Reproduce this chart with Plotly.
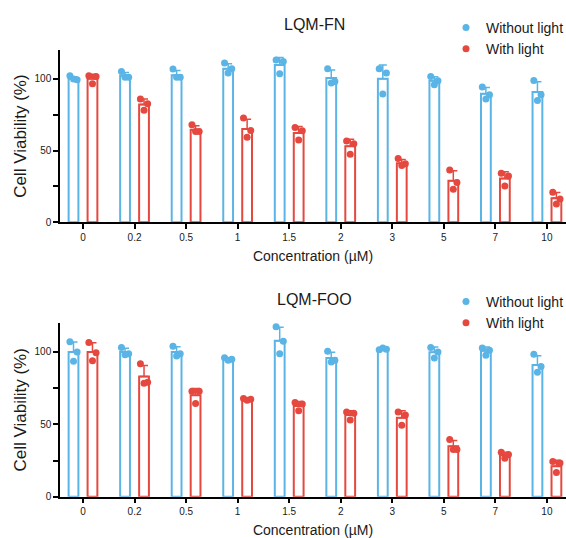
import plotly.graph_objects as go
import numpy as np

categories = ["0", "0.2", "0.5", "1", "1.5", "2", "3", "5", "7", "10"]

# ---- LQM-FN ----
fn_dark_mean = [100, 102, 102.5, 107, 109.5, 100.5, 100, 98.5, 89.5, 90.7]
fn_dark_err = [1.4, 2.3, 3.3, 3.5, 5.2, 5.5, 9.5, 2.9, 4.3, 7.2]
fn_dark_pts = [[102, 99.3, 99.8], [105, 101, 101], [106.7, 101, 101], [111, 107, 104],
               [113, 112, 103.5], [107, 98, 97], [107, 104, 89.3], [101.6, 98.6, 95.8],
               [94.2, 88.8, 85.8], [98.8, 88.8, 84.9]]
fn_light_mean = [100, 82, 64.5, 65, 62.2, 53, 41.2, 29, 30.5, 16.7]
fn_light_err = [3.1, 3.9, 2.7, 6.7, 4.5, 4.9, 2.6, 6.9, 4.7, 4.1]
fn_light_pts = [[102, 101.6, 96.5], [85.8, 82.6, 78], [67.9, 63.3, 63.3], [72.6, 64, 59.3],
                [66, 63.7, 57.4], [56.7, 54.7, 47.4], [44.4, 40.7, 39.5], [36.5, 27.7, 23],
                [34.2, 32.3, 25.3], [20.9, 16.3, 12.8]]

# ---- LQM-FOO ----
foo_dark_mean = [100, 100, 100, 95, 107.8, 95.8, 102.1, 99.8, 100.8, 91]
foo_dark_err = [6.8, 2.6, 3.6, 0.9, 9.3, 4.0, 0.6, 3.6, 2.6, 6.3]
foo_dark_pts = [[107, 100, 93.5], [103, 98.8, 98.1], [104, 98.8, 97.2], [96, 94.9, 94.2],
                [117.4, 107.4, 98.8], [100.5, 94.2, 93], [101.6, 101.9, 102.8],
                [103, 100, 95.8], [102.8, 101.2, 97.7], [98.4, 90, 86]]
foo_light_mean = [100, 83, 70, 67, 62.6, 56.4, 54.5, 34.9, 28.6, 21]
foo_light_err = [6.3, 7.6, 4.8, 0.6, 3.1, 3.0, 4.9, 4.0, 2.1, 4.2]
foo_light_pts = [[106.5, 99.5, 94], [91.9, 79, 78.4], [72.8, 72.8, 64.4], [67.9, 67.4, 66.7],
                 [65.1, 64, 59.3], [58.6, 57.7, 53], [58.6, 56.5, 49.3], [39.5, 32.6, 32.6],
                 [30.7, 29.1, 26.5], [24.4, 23.3, 16.7]]

panel_titles = ["LQM-FN", "LQM-FOO"]
series_names = ["Without light", "With light"]

BLUE = "#5AB4E5"
RED = "#E5483F"
FONT = "Arial, Liberation Sans, sans-serif"
TXT = "#1a1a1a"

W, H = 566, 538
idx = np.arange(len(categories))
OFF = 0.184
BW = 0.19
JIT = np.array([-0.07, 0.07, 0.0])

fig = go.Figure()


def add_panel(n, dark_mean, dark_err, dark_pts, light_mean, light_err, light_pts, legend):
    xa = "x" if n == 1 else "x2"
    ya = "y" if n == 1 else "y2"
    for sign, mean, err, pts, col, name in [
        (-1, dark_mean, dark_err, dark_pts, BLUE, series_names[0]),
        (1, light_mean, light_err, light_pts, RED, series_names[1]),
    ]:
        xb = idx + sign * OFF
        fig.add_trace(go.Bar(
            x=xb, y=mean, width=BW, xaxis=xa, yaxis=ya, showlegend=False,
            marker=dict(color="white", line=dict(color=col, width=2)),
            error_y=dict(type="data", array=err, arrayminus=[0] * len(err), symmetric=False,
                         color=col, thickness=1.5, width=4),
            hoverinfo="skip",
        ))
        px = []
        py = []
        for i, trip in enumerate(pts):
            for j, v in enumerate(trip):
                px.append(xb[i] + JIT[j])
                py.append(v)
        fig.add_trace(go.Scatter(
            x=px, y=py, mode="markers", name=name, xaxis=xa, yaxis=ya,
            marker=dict(color=col, size=7), cliponaxis=False, legend=legend,
        ))


add_panel(1, fn_dark_mean, fn_dark_err, fn_dark_pts, fn_light_mean, fn_light_err, fn_light_pts, "legend")
add_panel(2, foo_dark_mean, foo_dark_err, foo_dark_pts, foo_light_mean, foo_light_err, foo_light_pts, "legend2")


def py2paper(p):
    return 1 - p / H


xrange_ = [-0.446, 9.37]
xcommon = dict(range=xrange_, tickvals=list(idx), ticktext=categories, ticks="outside",
               ticklen=5, tickwidth=1.5, tickcolor="black", showline=True, linecolor="black",
               linewidth=1.5, showgrid=False, zeroline=False, domain=[0, 1],
               tickfont=dict(size=10, color=TXT, family=FONT),
               title=dict(text="Concentration (µM)", font=dict(size=14, color=TXT, family=FONT), standoff=9),
               automargin=False)
ycommon = dict(range=[0, 120], tickvals=[0, 25, 50, 75, 100], ticktext=["0", "", "50", "", "100"],
               ticks="outside", ticklen=5, tickwidth=1.5, tickcolor="black", showline=True,
               linecolor="black", linewidth=1.5, showgrid=False, zeroline=False,
               tickfont=dict(size=10, color=TXT, family=FONT),
               title=dict(text="Cell Viability (%)", font=dict(size=17, color=TXT, family=FONT), standoff=4),
               automargin=False)

fig.update_layout(
    width=W, height=H,
    margin=dict(l=60, r=0, t=0, b=0, autoexpand=False),
    paper_bgcolor="white", plot_bgcolor="white",
    barmode="overlay",
    font=dict(family=FONT, color=TXT),
    xaxis=dict(anchor="y", **xcommon),
    xaxis2=dict(anchor="y2", **xcommon),
    yaxis=dict(anchor="x", domain=[py2paper(222.3), py2paper(50)], **ycommon),
    yaxis2=dict(anchor="x2", domain=[py2paper(496.7), py2paper(323)], **ycommon),
    legend=dict(x=(446 - 60) / 506, xanchor="left", y=py2paper(12), yanchor="top",
                font=dict(size=14, color=TXT, family=FONT), bgcolor="rgba(0,0,0,0)",
                tracegroupgap=0),
    legend2=dict(x=(446 - 60) / 506, xanchor="left", y=py2paper(286), yanchor="top",
                 font=dict(size=14, color=TXT, family=FONT), bgcolor="rgba(0,0,0,0)",
                 tracegroupgap=0),
    annotations=[
        dict(text=panel_titles[0], x=(314 - 60) / 506, y=py2paper(25), xref="paper", yref="paper",
             showarrow=False, font=dict(size=16, color=TXT, family=FONT), xanchor="center", yanchor="middle"),
        dict(text=panel_titles[1], x=(314 - 60) / 506, y=py2paper(299), xref="paper", yref="paper",
             showarrow=False, font=dict(size=16, color=TXT, family=FONT), xanchor="center", yanchor="middle"),
    ],
)

fig.write_html("out.html", config={"displayModeBar": False},
               post_script="document.body.style.margin='0';document.body.style.overflow='hidden';")
